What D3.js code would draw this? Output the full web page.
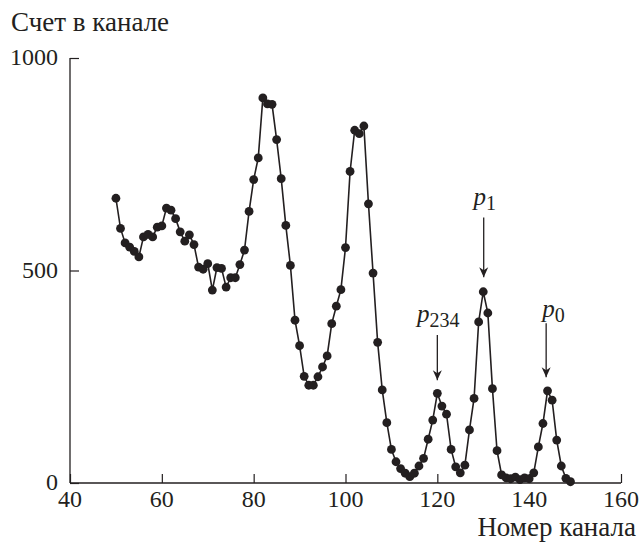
<!DOCTYPE html>
<html>
<head>
<meta charset="utf-8">
<script src="https://d3js.org/d3.v7.min.js"></script>
</head>
<body style="margin:0">
<script>
var width = 641,
    height = 544;

var serif = "Liberation Serif, Tinos, Times New Roman, FreeSerif";
var ink = "#231f20";

// channel numbers and counts
var channels = d3.range(50, 150);
var counts = [
  670, 599, 565, 555, 545, 532, 579, 585, 579, 602,
  605, 647, 642, 622, 591, 569, 584, 561, 508, 503,
  516, 454, 507, 505, 461, 483, 483, 514, 548, 639,
  714, 765, 906, 892, 891, 808, 716, 606, 512, 383,
  323, 251, 230, 230, 250, 273, 299, 375, 416, 455,
  554, 733, 830, 822, 840, 657, 494, 331, 219, 142,
  79, 50, 34, 23, 15, 23, 40, 58, 103, 148,
  211, 181, 162, 79, 38, 24, 42, 125, 199, 379,
  450, 400, 222, 76, 19, 12, 10, 14, 8, 12,
  10, 24, 85, 140, 217, 195, 101, 40, 11, 3
];

var xTicks = [40, 60, 80, 100, 120, 140, 160];
var yTicks = [0, 500, 1000];

// peak labels: name, subscript, arrow channel, arrow top/tip counts
var peakNames = ["p", "p", "p"];
var peakSubs = ["234", "1", "0"];
var peakChannels = [120, 130.1, 143.7];
var arrowTops = [348, 625, 376];
var arrowTips = [242, 484, 249];
var labelChannels = [120.2, 130.3, 145.3];
var labelCounts = [378, 653, 390];

var x = d3.scaleLinear().domain([40, 160]).range([70, 621]);
var y = d3.scaleLinear().domain([0, 1000]).range([483, 58]);

var svg = d3.select("body").append("svg")
    .attr("width", width)
    .attr("height", height)
    .attr("font-family", serif)
    .style("background", "#fff");

svg.append("defs").append("marker")
    .attr("id", "arrow")
    .attr("viewBox", "0 0 10 10")
    .attr("refX", 10)
    .attr("refY", 5)
    .attr("markerWidth", 10)
    .attr("markerHeight", 10)
    .attr("markerUnits", "userSpaceOnUse")
    .attr("orient", "auto")
  .append("path")
    .attr("d", "M0,0.5L10,5L0,9.5L3,5Z")
    .attr("fill", ink);

// axes
var xAxis = d3.axisTop(x).tickValues(xTicks).tickSize(9).tickFormat("");
var yAxis = d3.axisRight(y).tickValues(yTicks).tickSize(9).tickFormat("");

svg.append("g")
    .attr("transform", "translate(0," + y(0) + ")")
    .call(xAxis)
    .call(function(g) {
      g.select(".domain").attr("d", "M" + x(40) + ",0H" + x(160)).attr("stroke", ink).attr("stroke-width", 1.3);
      g.selectAll("line").attr("stroke", ink).attr("stroke-width", 1.2);
    });

svg.append("g")
    .attr("transform", "translate(" + x(40) + ",0)")
    .call(yAxis)
    .call(function(g) {
      g.select(".domain").attr("d", "M0," + y(0) + "V" + y(1000)).attr("stroke", ink).attr("stroke-width", 1.3);
      g.selectAll("line").attr("stroke", ink).attr("stroke-width", 1.2);
    });

var texts = svg.append("g")
    .attr("font-family", serif)
    .attr("font-size", 24)
    .attr("fill", ink);

texts.selectAll(".xlab")
    .data(xTicks)
  .enter().append("text")
    .attr("class", "xlab")
    .attr("x", function(d) { return x(d); })
    .attr("y", y(0) + 24)
    .attr("text-anchor", "middle")
    .text(function(d) { return d; });

texts.selectAll(".ylab")
    .data(yTicks)
  .enter().append("text")
    .attr("class", "ylab")
    .attr("x", x(40) - 12)
    .attr("y", function(d) { return y(d); })
    .attr("dy", "0.3em")
    .attr("text-anchor", "end")
    .text(function(d) { return d; });

texts.append("text")
    .attr("font-size", 27)
    .attr("x", 11)
    .attr("y", 31)
    .text("Счет в канале");

texts.append("text")
    .attr("font-size", 27)
    .attr("x", 636)
    .attr("y", 536)
    .attr("text-anchor", "end")
    .text("Номер канала");

// spectrum
var pts = channels.map(function(c, i) { return [c, counts[i]]; });

svg.append("path")
    .datum(pts)
    .attr("fill", "none")
    .attr("stroke", ink)
    .attr("stroke-width", 1.6)
    .attr("d", d3.line()
      .x(function(d) { return x(d[0]); })
      .y(function(d) { return y(d[1]); }));

svg.selectAll(".dot")
    .data(pts)
  .enter().append("circle")
    .attr("class", "dot")
    .attr("cx", function(d) { return x(d[0]); })
    .attr("cy", function(d) { return y(d[1]); })
    .attr("r", 4.4)
    .attr("fill", ink);

// peak arrows and labels
svg.selectAll(".arrow")
    .data(peakChannels)
  .enter().append("line")
    .attr("class", "arrow")
    .attr("x1", function(d) { return x(d); })
    .attr("x2", function(d) { return x(d); })
    .attr("y1", function(d, i) { return y(arrowTops[i]); })
    .attr("y2", function(d, i) { return y(arrowTips[i]); })
    .attr("stroke", ink)
    .attr("stroke-width", 1.3)
    .attr("marker-end", "url(#arrow)");

var lab = texts.selectAll(".peak")
    .data(peakNames)
  .enter().append("text")
    .attr("class", "peak")
    .attr("font-size", 25)
    .attr("x", function(d, i) { return x(labelChannels[i]); })
    .attr("y", function(d, i) { return y(labelCounts[i]); })
    .attr("text-anchor", "middle");

lab.append("tspan")
    .attr("font-style", "italic")
    .text(function(d) { return d; });

lab.append("tspan")
    .attr("dy", 5)
    .attr("font-size", 20)
    .text(function(d, i) { return peakSubs[i]; });
</script>
</body>
</html>
